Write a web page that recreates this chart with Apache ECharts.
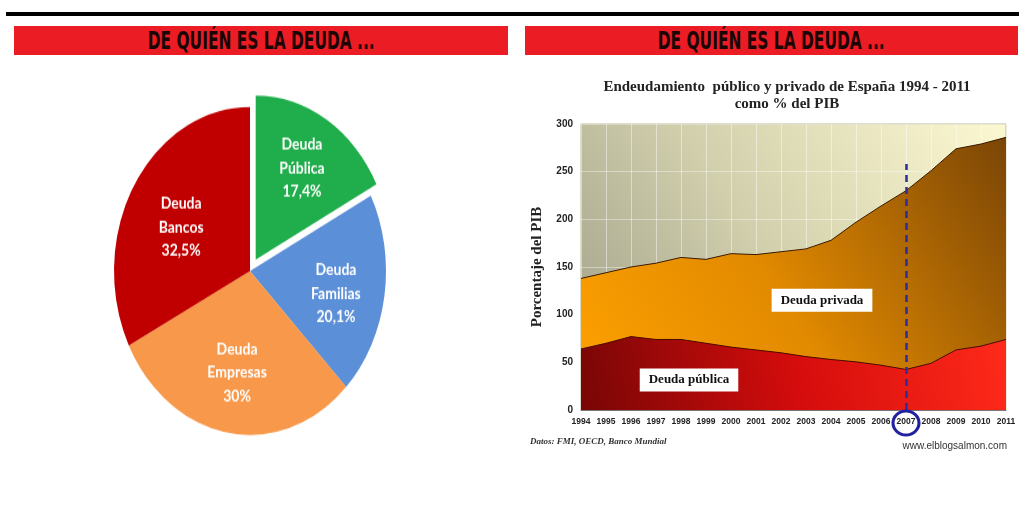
<!DOCTYPE html>
<html>
<head>
<meta charset="utf-8">
<script src="https://cdn.jsdelivr.net/npm/echarts@6/dist/echarts.min.js"></script>
<style>
body { margin: 0; background: #fff; width: 1019px; height: 509px; overflow: hidden; position: relative; }
.rule { position: absolute; left: 6px; right: 0; top: 12px; height: 4px; background: #000; }
.head { position: absolute; top: 26px; height: 29px; background: #ec1c24; text-align: center; overflow: hidden; white-space: nowrap; }
.head span { display: inline-block; font: bold 25px 'DejaVu Sans Condensed', 'DejaVu Sans', sans-serif; font-stretch: condensed; color: #1a0404; line-height: 29px; transform-origin: center; }
#pie { position: absolute; left: 0; top: 0; width: 510px; height: 422px; transform: scaleY(1.206); transform-origin: 0 0; }
#area { position: absolute; left: 510px; top: 0; width: 509px; height: 509px; }
</style>
</head>
<body>
<div class="rule"></div>
<div class="head" style="left:14px;width:494px"><span>DE QUIÉN ES LA DEUDA ...</span></div>
<div class="head" style="left:525px;width:493px"><span>DE QUIÉN ES LA DEUDA ...</span></div>
<div id="pie"></div>
<div id="area"></div>
<script>
// tarta: de quién es la deuda
const pieNames = ['Deuda\nPública', 'Deuda\nFamilias', 'Deuda\nEmpresas', 'Deuda\nBancos']
const pieValues = [17.4, 20.1, 30, 32.5]
const pieLabels = ['17,4%', '20,1%', '30%', '32,5%']

// endeudamiento en % del PIB (pública y total público + privado)
const years = [1994, 1995, 1996, 1997, 1998, 1999, 2000, 2001, 2002, 2003, 2004, 2005, 2006, 2007, 2008, 2009, 2010, 2011]
const deudaPublica = [64, 70, 77, 74, 74, 70, 66, 63, 60, 56, 53, 50.5, 47, 42.5, 49, 63, 67, 74]
const deudaTotal = [138, 144, 150, 154, 160, 158, 164, 163, 166, 169, 178, 197, 214, 230, 251, 274, 279, 286]
const yTicks = { min: 0, max: 300, interval: 50 }

// ajustar ancho de las cabeceras
document.querySelectorAll('.head span').forEach(s => {
  const w = s.getBoundingClientRect().width
  s.style.transform = 'scaleX(' + (227 / w) + ')'
})

const pieColors = ['#1fae4b', '#5b8fd8', '#f7984a', '#c00000']
// pequeños ajustes de la posición de cada etiqueta
const pieLabelShift = [[-2, -14], [-2, 5], [1, -4], [7, 10]]
const pieCenter = [250, 224.7]
const pieChart = echarts.init(document.getElementById('pie'))
pieChart.setOption({
  animation: false,
  series: [
    {
      type: 'pie',
      center: pieCenter,
      radius: 136,
      selectedMode: 'single',
      selectedOffset: 11,
      silent: true,
      label: { show: false },
      labelLine: { show: false },
      data: pieValues.map((v, i) => ({
        name: pieNames[i], value: v, selected: i === 0,
        itemStyle: { color: pieColors[i] }
      }))
    },
    {
      // capa sólo para las etiquetas
      type: 'pie',
      center: pieCenter,
      radius: [36, 136],
      selectedMode: 'single',
      selectedOffset: 11,
      silent: true,
      itemStyle: { color: 'rgba(0,0,0,0)' },
      label: {
        show: true,
        position: 'inside',
        color: '#fff',
        fontFamily: 'Lato',
        fontWeight: 'bold',
        fontSize: 14,
        lineHeight: 19.5,
        formatter: p => p.name + '\n' + pieLabels[p.dataIndex]
      },
      data: pieValues.map((v, i) => ({
        name: pieNames[i], value: v, selected: i === 0,
        label: { offset: pieLabelShift[i] }
      }))
    }
  ]
})

const areaChart = echarts.init(document.getElementById('area'))
const serif = 'Liberation Serif'
const boxLabel = txt => ({
  show: true, position: 'inside', formatter: txt,
  backgroundColor: '#fff', padding: [5, 9], color: '#111',
  fontFamily: serif, fontWeight: 'bold', fontSize: 13
})
areaChart.setOption({
  animation: false,
  grid: {
    left: 71, right: 13, top: 124, bottom: 99,
    show: true,
    borderColor: '#bdb994',
    borderWidth: 1,
    backgroundColor: new echarts.graphic.LinearGradient(0, 1, 1, 0, [
      { offset: 0, color: '#9d9d88' },
      { offset: 0.5, color: '#d4d2ae' },
      { offset: 1, color: '#fcf9d2' }
    ])
  },
  graphic: [
    {
      type: 'text', x: 277, y: 87,
      style: {
        text: 'Endeudamiento  público y privado de España 1994 - 2011', fill: '#222',
        font: 'bold 15px "Liberation Serif"', textAlign: 'center', textVerticalAlign: 'middle'
      }
    },
    {
      type: 'text', x: 277, y: 104,
      style: {
        text: 'como % del PIB', fill: '#222',
        font: 'bold 15px "Liberation Serif"', textAlign: 'center', textVerticalAlign: 'middle'
      }
    },
    {
      type: 'text', x: 20, y: 442,
      style: {
        text: 'Datos: FMI, OECD, Banco Mundial', fill: '#333',
        font: 'italic bold 9px "Liberation Serif"', textVerticalAlign: 'middle'
      }
    },
    {
      type: 'text', x: 497, y: 446,
      style: {
        text: 'www.elblogsalmon.com', fill: '#333',
        font: '10px "Liberation Sans"', textAlign: 'right', textVerticalAlign: 'middle'
      }
    }
  ],
  xAxis: {
    type: 'value',
    min: 1994,
    max: 2011,
    interval: 1,
    axisLine: { show: true, lineStyle: { color: '#777' } },
    axisTick: { show: false },
    axisLabel: {
      formatter: v => String(v),
      fontSize: 8.5, fontWeight: 'bold', color: '#222', fontFamily: 'Liberation Sans', margin: 7
    },
    splitLine: { show: true, lineStyle: { color: 'rgba(255,255,255,0.45)', width: 1 } }
  },
  yAxis: {
    type: 'value',
    min: yTicks.min,
    max: yTicks.max,
    interval: yTicks.interval,
    name: 'Porcentaje del PIB',
    nameLocation: 'middle',
    nameGap: 36,
    nameTextStyle: { fontFamily: serif, fontWeight: 'bold', fontSize: 15, color: '#222' },
    axisLine: { show: false },
    axisTick: { show: false },
    axisLabel: { fontSize: 10, fontWeight: 'bold', color: '#222', fontFamily: 'Liberation Sans', margin: 8 },
    splitLine: { show: true, lineStyle: { color: 'rgba(255,255,255,0.4)', width: 1 } }
  },
  series: [
    {
      name: 'Deuda privada',
      type: 'line',
      symbol: 'none',
      lineStyle: { color: '#3a1a00', width: 1 },
      areaStyle: {
        opacity: 1,
        color: new echarts.graphic.LinearGradient(0, 1, 1, 0, [
          { offset: 0, color: '#ffa200' },
          { offset: 0.45, color: '#e28a00' },
          { offset: 1, color: '#7a4506' }
        ])
      },
      data: years.map((y, i) => [y, deudaTotal[i]]),
      markPoint: {
        silent: true,
        data: [{ coord: [2003.64, 115], symbolSize: 0, label: boxLabel('Deuda privada') }]
      }
    },
    {
      name: 'Deuda pública',
      type: 'line',
      symbol: 'none',
      lineStyle: { color: '#4a0a00', width: 1 },
      areaStyle: {
        opacity: 1,
        color: new echarts.graphic.LinearGradient(0, 1, 1, 0, [
          { offset: 0, color: '#780606' },
          { offset: 0.5, color: '#d40c0c' },
          { offset: 1, color: '#ff2a1a' }
        ])
      },
      data: years.map((y, i) => [y, deudaPublica[i]]),
      markPoint: {
        silent: true,
        data: [
          { coord: [1998.32, 31.4], symbolSize: 0, label: boxLabel('Deuda pública') },
          {
            coord: [2007, 0], symbol: 'circle', symbolSize: [26, 24], symbolOffset: [0, 13],
            itemStyle: { color: 'rgba(0,0,0,0)', borderColor: '#2222a0', borderWidth: 3 },
            label: { show: false }
          }
        ]
      },
      markLine: {
        silent: true,
        symbol: ['none', 'none'],
        label: { show: false },
        lineStyle: { type: [7, 5], color: '#2d2d9c', width: 2.5 },
        data: [[{ coord: [2007, 0] }, { coord: [2007, 258] }]]
      }
    }
  ]
})
</script>
</body>
</html>
